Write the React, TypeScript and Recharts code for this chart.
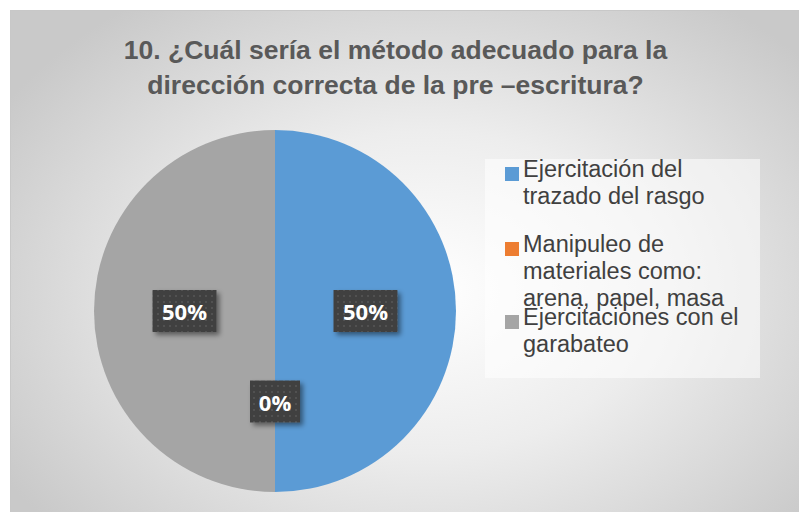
import { PieChart, Pie, Cell, Legend } from "recharts";

// ─── Data ─────────────────────────────────────────────────────────────────────

const TITLE_LINES = [
  "10. ¿Cuál sería el método adecuado para la",
  "dirección correcta de la pre –escritura?",
];

const categories = [
  "Ejercitación del trazado del rasgo",
  "Manipuleo de materiales como: arena, papel, masa",
  "Ejercitaciones con el garabateo",
];

// legend text as wrapped in the original
const legendLines = [
  ["Ejercitación del", "trazado del rasgo"],
  ["Manipuleo de", "materiales como:", "arena, papel, masa"],
  ["Ejercitaciones con el", "garabateo"],
];

const percents = [50, 0, 50];

const COLORS = ["#5B9BD5", "#ED7D31", "#A5A5A5"];

const data = categories.map((name, i) => ({ name, value: percents[i] }));

// ─── Label ────────────────────────────────────────────────────────────────────

const RAD = Math.PI / 180;

function renderLabel(props: any) {
  const { cx, cy, midAngle, outerRadius, index, value } = props;
  const r = outerRadius * 0.5;
  const x = cx + r * Math.cos(-midAngle * RAD);
  const y = cy + r * Math.sin(-midAngle * RAD);
  const text = `${value}%`;
  const w = value >= 10 ? 64 : 50;
  const h = 42;
  const pid = `dots-${index}`;
  const fid = `shadow-${index}`;
  return (
    <g key={`lbl-${index}`}>
      <defs>
        <pattern id={pid} width="6" height="6" patternUnits="userSpaceOnUse">
          <rect width="6" height="6" fill="#404040" />
          <circle cx="3" cy="3" r="1.1" fill="#555555" />
        </pattern>
        <filter id={fid} x="-30%" y="-30%" width="160%" height="160%">
          <feDropShadow dx="3" dy="3" stdDeviation="2.5" floodColor="#000" floodOpacity="0.45" />
        </filter>
      </defs>
      <rect
        x={x - w / 2}
        y={y - h / 2}
        width={w}
        height={h}
        fill={`url(#${pid})`}
        filter={`url(#${fid})`}
      />
      <text
        x={x}
        y={y}
        fill="#FFFFFF"
        textAnchor="middle"
        dominantBaseline="central"
        style={{ fontFamily: "'Open Sans', sans-serif", fontWeight: 700, fontSize: 22 }}
      >
        {text}
      </text>
    </g>
  );
}

// ─── Legend ───────────────────────────────────────────────────────────────────

const ITEM_TOPS = [-3, 72, 145];

function renderLegend() {
  return (
    <div
      style={{
        position: "relative",
        width: 275,
        height: 219,
        background: "rgba(255,255,255,0.55)",
        fontFamily: "'Liberation Sans', Arial, sans-serif",
        fontSize: 23.5,
        lineHeight: "27px",
        color: "#404040",
      }}
    >
      {legendLines.map((lines, i) => (
        <div key={i} style={{ position: "absolute", left: 0, top: ITEM_TOPS[i], width: 275 }}>
          <div
            style={{
              position: "absolute",
              left: 20,
              top: 11,
              width: 14,
              height: 14,
              background: COLORS[i],
            }}
          />
          <div style={{ position: "absolute", left: 38, top: 0, whiteSpace: "nowrap" }}>
            {lines.map((l, j) => (
              <div key={j}>{l}</div>
            ))}
          </div>
        </div>
      ))}
    </div>
  );
}

// ─── Component ────────────────────────────────────────────────────────────────

export default function App() {
  return (
    <div
      style={{
        position: "absolute",
        left: 0,
        top: 0,
        width: 799,
        height: 512,
        overflow: "hidden",
        background: "#FFFFFF",
      }}
    >
      <div
        style={{
          position: "absolute",
          left: 10,
          top: 10,
          width: 800,
          height: 510,
          border: "1px solid #C8C8C8",
          background:
            "radial-gradient(ellipse 62% 70% at 52% 55%, #FFFFFF 0%, #EDEDED 45%, #C9C9C9 100%)",
        }}
      >
        <div
          style={{
            position: "absolute",
            left: -10,
            top: 22,
            width: 789,
            textAlign: "center",
            fontFamily: "'Liberation Sans', Arial, sans-serif",
            fontWeight: 700,
            fontSize: 26.5,
            lineHeight: "35px",
            color: "#595959",
          }}
        >
          {TITLE_LINES.map((l, i) => (
            <div key={i}>{l}</div>
          ))}
        </div>
        <div style={{ position: "absolute", left: 0, top: 0 }}>
          <PieChart width={789} height={501}>
            <Pie
              data={data}
              dataKey="value"
              nameKey="name"
              cx={259}
              cy={295}
              outerRadius={181}
              startAngle={90}
              endAngle={-270}
              stroke="none"
              label={renderLabel}
              labelLine={false}
              isAnimationActive={false}
            >
              {data.map((d, i) => (
                <Cell key={d.name} fill={COLORS[i]} stroke="none" />
              ))}
            </Pie>
            <Legend
              content={renderLegend}
              wrapperStyle={{ position: "absolute", left: 474, top: 148, width: 275, height: 219 }}
            />
          </PieChart>
        </div>
      </div>
    </div>
  );
}
